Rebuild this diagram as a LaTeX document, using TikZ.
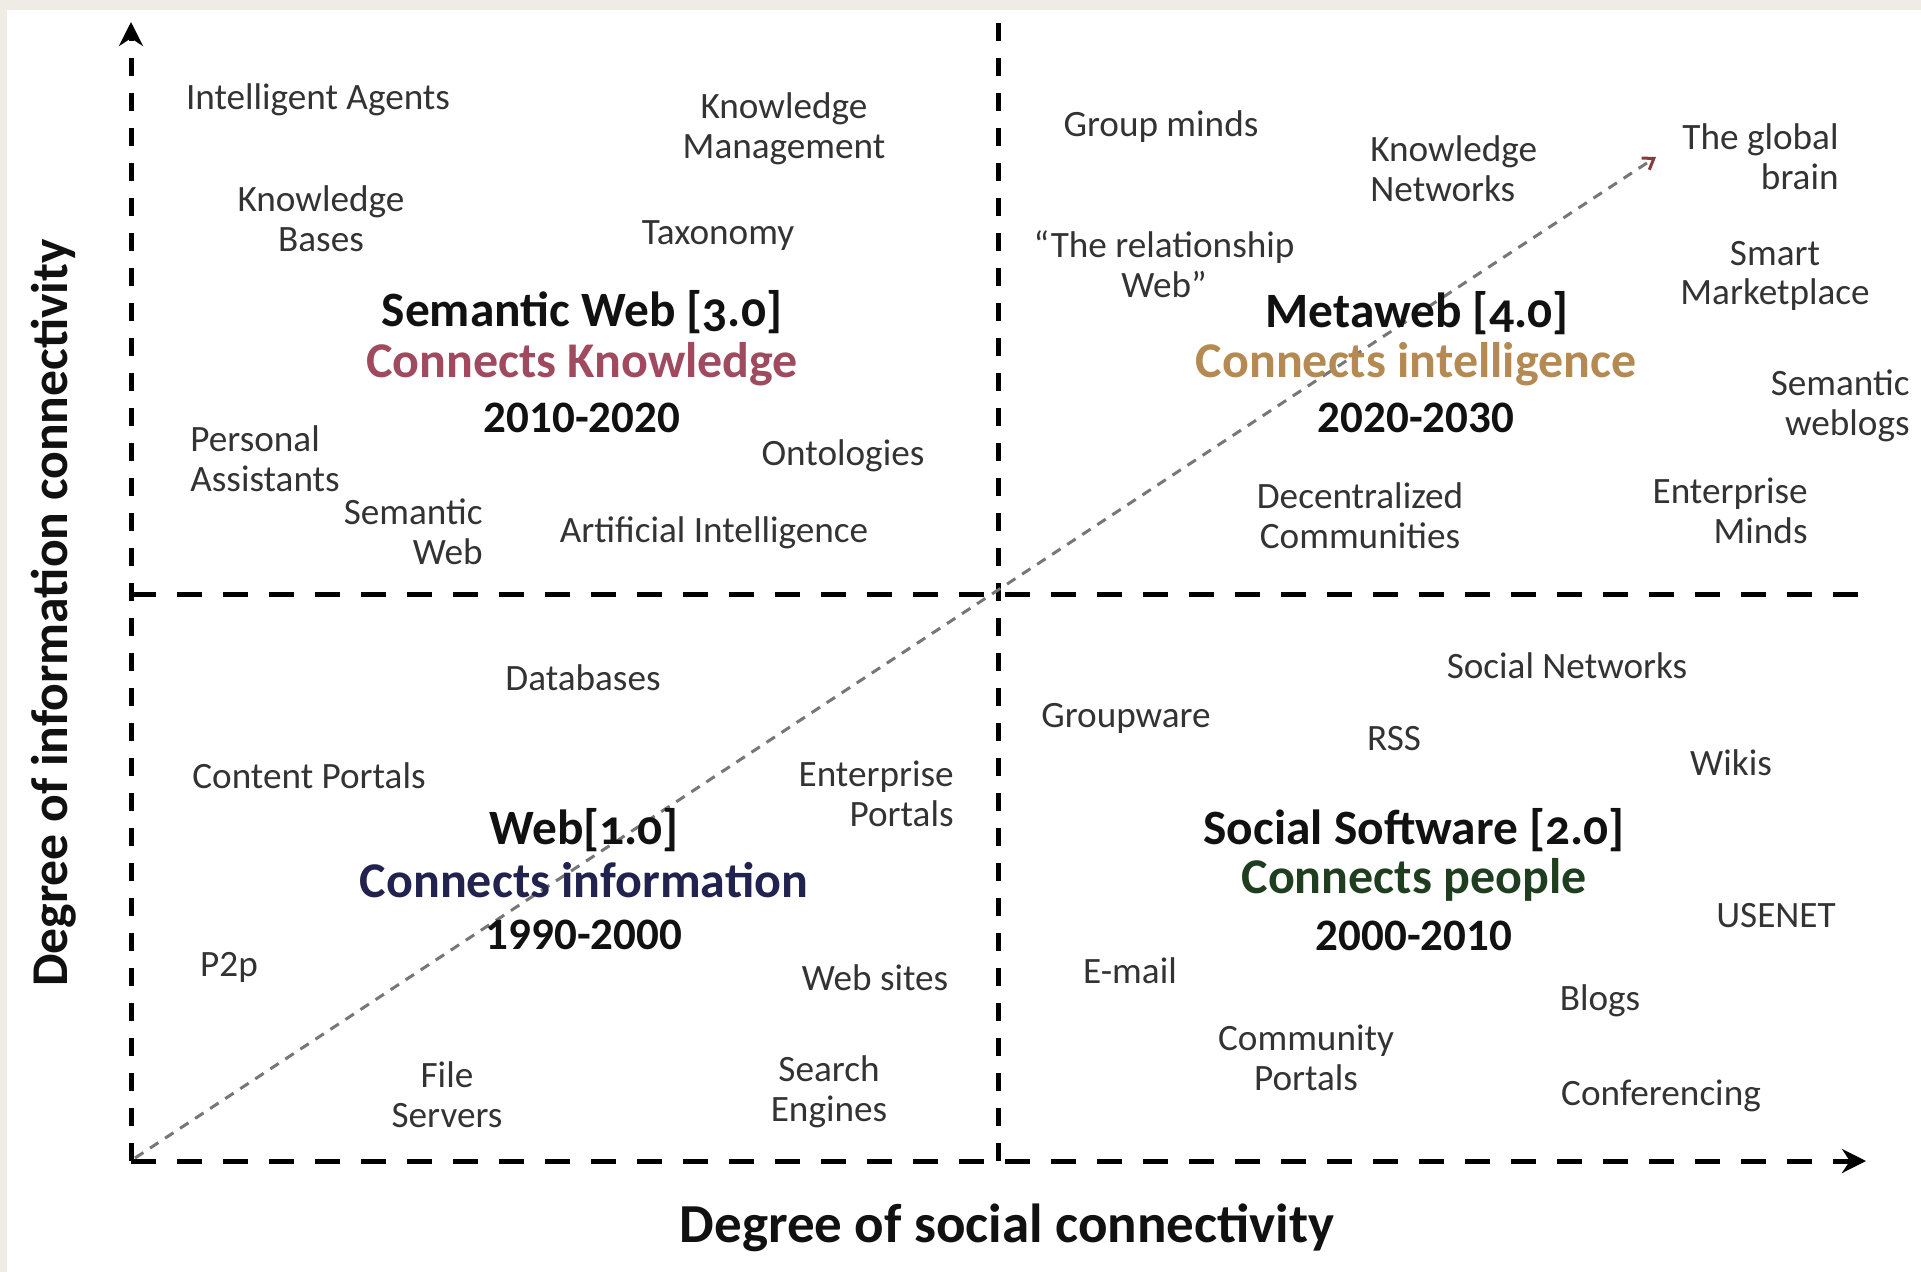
\documentclass[tikz,border=0pt]{standalone}
\usepackage{fontspec}
\setmainfont{Carlito}
\newfontfamily\headfont[Numbers=OldStyle]{Carlito}
\usetikzlibrary{arrows.meta}
\definecolor{beige}{HTML}{EEECE4}
\definecolor{txtgray}{HTML}{333333}
\definecolor{headblack}{HTML}{111111}
\definecolor{cknow}{HTML}{A04A60}
\definecolor{cintel}{HTML}{B48A52}
\definecolor{cinfo}{HTML}{22224E}
\definecolor{cpeople}{HTML}{1F3D1F}
\definecolor{diag}{HTML}{777777}
\definecolor{diagtip}{HTML}{8A3A3A}
\tikzset{
  lbl/.style={font=\fontsize{18.6}{19.8}\selectfont, text=txtgray, inner sep=0pt, align=center, yshift=-1.5pt},
  lblL/.style={lbl, align=left, anchor=west},
  lblR/.style={lbl, align=right, anchor=east},
  head/.style={font=\headfont\bfseries\fontsize{24.7}{28}\selectfont, text=headblack, inner sep=0pt, yshift=-1pt},
  conn/.style={font=\bfseries\fontsize{25}{28}\selectfont, inner sep=0pt},
  yr/.style={font=\bfseries\fontsize{22.5}{25}\selectfont, text=headblack, inner sep=0pt},
  axlbl/.style={font=\bfseries\fontsize{27.5}{30}\selectfont, text=headblack, inner sep=0pt},
  axisV/.style={line width=2.5pt, dash pattern=on 9pt off 8.5pt, black},
  axisH/.style={line width=2.5pt, dash pattern=on 12.5pt off 10.5pt, black},
  axtip/.style={-{Stealth[length=12pt,width=12pt]}},
  diagline/.style={line width=1.5pt, diag, dash pattern=on 5pt off 4pt, -{Straight Barb[length=5pt,width=7pt,color=diagtip,line width=1.5pt]}}
}
\begin{document}
\begin{tikzpicture}[x=0.5pt,y=-0.5pt]
\fill[beige] (0,0) rectangle (1921,1272);
\fill[white] (7,10) rectangle (1921,1272);
\useasboundingbox (0,0) rectangle (1921,1272);

% coordinates
\coordinate (o) at (131,1161);
\coordinate (ytop) at (131,22);
\coordinate (xtip) at (1866,1161);
\coordinate (mvT) at (998,22);
\coordinate (mvB) at (998,1161);
\coordinate (mhL) at (131,594);
\coordinate (mhR) at (1866,594);
\coordinate (dstart) at (135,1158);
\coordinate (gb) at (1656,157);

% axes and quadrant lines
\draw[axisV] (mvB) -- (mvT);
\draw[axisH] (mhL) -- (mhR);
\draw[axisV, axtip] (o) -- (ytop);
\draw[axisH, axtip] (o) -- (xtip);
\draw[diagline] (dstart) -- (gb);

% top-left quadrant
\node[lbl] (ia) at (318,97) {Intelligent Agents};
\node[lbl] (km) at (784,126) {Knowledge\\Management};
\node[lbl] (kb) at (321,216) {Knowledge\\Bases};
\node[lbl] (tax) at (718,233) {Taxonomy};
\node[head] (sw) at (582,310) {Semantic Web [3.0]};
\node[conn, text=cknow] (ck) at (582,364) {Connects Knowledge};
\node[yr] (y3) at (582,418) {2010-2020};
\node[lblL] (pa) at (190,456) {Personal\\Assistants};
\node[lbl] (ont) at (843,453) {Ontologies};
\node[lblR] (sweb) at (483,529) {Semantic\\Web};
\node[lbl] (ai) at (714,530) {Artificial Intelligence};

% top-right quadrant
\node[lbl] (gm) at (1161,124) {Group minds};
\node[lblL] (kn) at (1370,166) {Knowledge\\Networks};
\node[lblR] (tgb) at (1839,154) {The global\\brain};
\node[lbl] (rw) at (1164,261) {“The relationship\\Web”};
\node[lbl] (sm) at (1775,273) {Smart\\Marketplace};
\node[head] (mw) at (1417,311) {Metaweb [4.0]};
\node[conn, text=cintel] (ci) at (1416,364) {Connects intelligence};
\node[yr] (y4) at (1416,418) {2020-2030};
\node[lblR] (swl) at (1910,403) {Semantic\\weblogs};
\node[lbl] (dc) at (1360,513) {Decentralized\\Communities};
\node[lblR] (em) at (1808,508) {Enterprise\\Minds};

% bottom-left quadrant
\node[lbl] (db) at (583,675) {Databases};
\node[lbl] (cp) at (309,773) {Content Portals};
\node[lblR] (ep) at (954,791) {Enterprise\\Portals};
\node[head] (w1) at (584,828) {Web[1.0]};
\node[conn, text=cinfo] (cinf) at (584,880) {Connects information};
\node[yr] (y1) at (584,935) {1990-2000};
\node[lbl] (p2p) at (229,964) {P2p};
\node[lbl] (ws) at (875,975) {Web sites};
\node[lbl] (fs) at (447,1092) {File\\Servers};
\node[lbl] (se) at (829,1089) {Search\\Engines};

% bottom-right quadrant
\node[lbl] (sn) at (1567,663) {Social Networks};
\node[lbl] (gw) at (1126,715) {Groupware};
\node[lbl] (rss) at (1394,736) {RSS};
\node[lbl] (wik) at (1731,760) {Wikis};
\node[head] (ss) at (1414,828) {Social Software [2.0]};
\node[conn, text=cpeople] (cpp) at (1414,880) {Connects people};
\node[yr] (y2) at (1414,936) {2000-2010};
\node[lbl] (use) at (1776,913) {USENET};
\node[lbl] (em2) at (1130,968) {E-mail};
\node[lbl] (bl) at (1600,998) {Blogs};
\node[lbl] (cop) at (1306,1055) {Community\\Portals};
\node[lbl] (conf) at (1661,1093) {Conferencing};

% axis labels
\node[axlbl] (xl) at (1007,1228) {Degree of social connectivity};
\node[axlbl, font=\bfseries\fontsize{25.8}{28}\selectfont, rotate=90] (yl) at (54,613) {Degree of information connectivity};
\end{tikzpicture}
\end{document}
